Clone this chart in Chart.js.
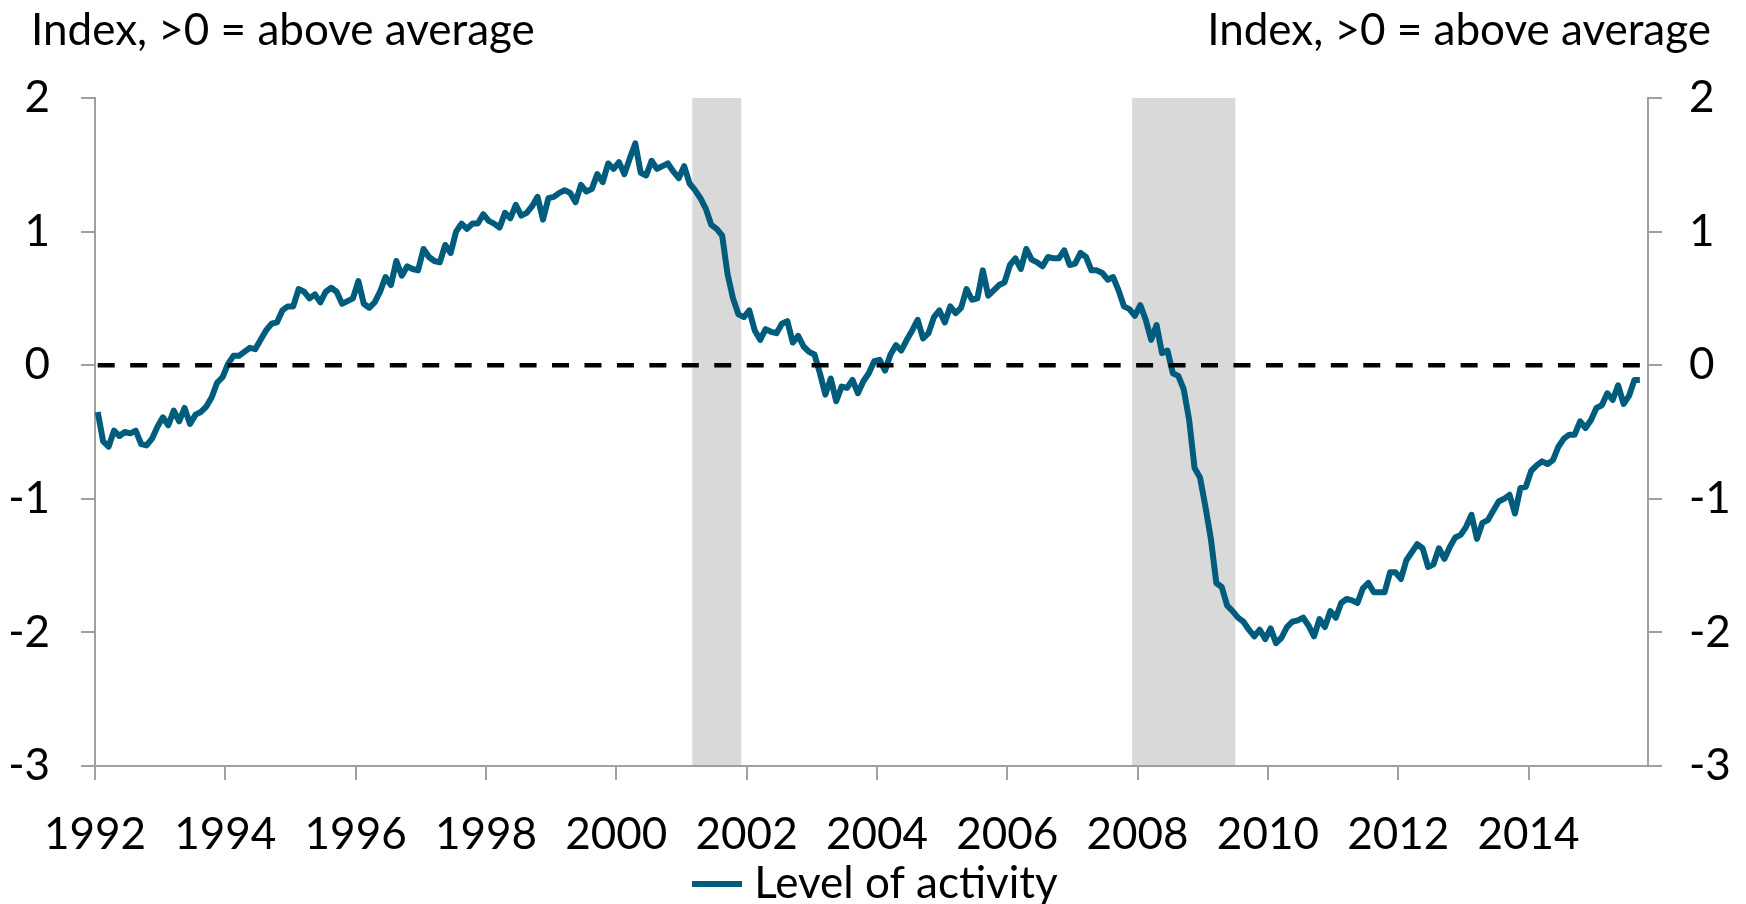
<!DOCTYPE html>
<html>
<head>
<meta charset="utf-8">
<title>Level of activity</title>
<script src="https://cdn.jsdelivr.net/npm/chart.js@4.4.0/dist/chart.umd.min.js"></script>
<style>
  html, body { margin: 0; padding: 0; background: #fff; }
  canvas { display: block; }
</style>
</head>
<body>
<canvas id="activityChart" width="1746" height="904"></canvas>
<script>
// monthly index, Jan 1992 - Sep 2015
const startYear = 1992;
const monthsOnAxis = 286;
const activity = [
  -0.35, -0.57, -0.61, -0.49, -0.53, -0.50, -0.51, -0.49, -0.59, -0.60, -0.55, -0.46, // 1992
  -0.39, -0.45, -0.34, -0.42, -0.32, -0.44, -0.37, -0.35, -0.31, -0.24, -0.13, -0.09, // 1993
   0.01,  0.07,  0.07,  0.10,  0.13,  0.12,  0.19,  0.26,  0.31,  0.32,  0.41,  0.44, // 1994
   0.44,  0.57,  0.55,  0.50,  0.53,  0.47,  0.55,  0.58,  0.55,  0.46,  0.48,  0.50, // 1995
   0.63,  0.46,  0.43,  0.47,  0.55,  0.66,  0.60,  0.78,  0.67,  0.74,  0.72,  0.71, // 1996
   0.87,  0.81,  0.78,  0.77,  0.90,  0.84,  1.00,  1.06,  1.02,  1.06,  1.06,  1.13, // 1997
   1.08,  1.06,  1.03,  1.14,  1.10,  1.20,  1.12,  1.14,  1.19,  1.26,  1.09,  1.25, // 1998
   1.26,  1.29,  1.31,  1.29,  1.22,  1.35,  1.30,  1.32,  1.43,  1.37,  1.51,  1.47, // 1999
   1.52,  1.43,  1.55,  1.66,  1.44,  1.42,  1.53,  1.47,  1.49,  1.51,  1.45,  1.40, // 2000
   1.49,  1.36,  1.31,  1.25,  1.17,  1.05,  1.02,  0.97,  0.68,  0.50,  0.38,  0.36, // 2001
   0.41,  0.26,  0.19,  0.27,  0.25,  0.24,  0.31,  0.33,  0.17,  0.22,  0.14,  0.10, // 2002
   0.08, -0.06, -0.22, -0.10, -0.27, -0.16, -0.17, -0.11, -0.21, -0.12, -0.06,  0.03, // 2003
   0.04, -0.04,  0.08,  0.15,  0.11,  0.19,  0.26,  0.34,  0.20,  0.24,  0.36,  0.41, // 2004
   0.32,  0.44,  0.39,  0.43,  0.57,  0.49,  0.50,  0.71,  0.52,  0.56,  0.60,  0.62, // 2005
   0.75,  0.80,  0.72,  0.87,  0.79,  0.77,  0.74,  0.81,  0.80,  0.80,  0.86,  0.75, // 2006
   0.76,  0.84,  0.81,  0.71,  0.71,  0.69,  0.64,  0.66,  0.56,  0.44,  0.42,  0.37, // 2007
   0.45,  0.34,  0.19,  0.30,  0.09,  0.11, -0.06, -0.08, -0.18, -0.41, -0.77, -0.84, // 2008
  -1.06, -1.30, -1.63, -1.66, -1.80, -1.84, -1.89, -1.92, -1.98, -2.03, -1.98, -2.05, // 2009
  -1.97, -2.08, -2.04, -1.96, -1.92, -1.91, -1.89, -1.95, -2.03, -1.90, -1.96, -1.84, // 2010
  -1.89, -1.78, -1.75, -1.76, -1.78, -1.67, -1.63, -1.70, -1.70, -1.70, -1.55, -1.55, // 2011
  -1.60, -1.46, -1.40, -1.34, -1.37, -1.51, -1.49, -1.37, -1.45, -1.36, -1.29, -1.27, // 2012
  -1.21, -1.12, -1.30, -1.18, -1.16, -1.09, -1.02, -1.00, -0.97, -1.11, -0.92, -0.91, // 2013
  -0.79, -0.75, -0.72, -0.74, -0.71, -0.61, -0.55, -0.52, -0.52, -0.42, -0.47, -0.41, // 2014
  -0.32, -0.30, -0.21, -0.26, -0.15, -0.29, -0.23, -0.11, -0.11                       // 2015
];
const xTickYears = [1992, 1994, 1996, 1998, 2000, 2002, 2004, 2006, 2008, 2010, 2012, 2014];
const yTicks = [-3, -2, -1, 0, 1, 2];
// NBER recessions: Mar-Nov 2001, Dec 2007-Jun 2009
const recessionStart = [2001 + 2 / 12, 2007 + 11 / 12];
const recessionEnd = [2001 + 11 / 12, 2009 + 6 / 12];
const axisTitle = 'Index, >0 = above average';
const seriesLabel = 'Level of activity';

const lineColor = '#005c7d';
const axisGrey = '#a0a0a0';
const fontFamily = 'Lato, "Liberation Sans", sans-serif';
const fontSize = 44;

// each month sits in the middle of its slot on the axis
const monthX = i => startYear + (i + 0.5) / 12;
const activityPoints = activity.map((v, i) => ({ x: monthX(i), y: v }));
const zeroPoints = [
  { x: monthX(0), y: 0 },
  { x: monthX(activity.length - 1), y: 0 }
];

// short thick bar for the legend key, sits close to its text like Excel's
const legendSwatch = document.createElement('canvas');
legendSwatch.width = 50;
legendSwatch.height = 6;
const swCtx = legendSwatch.getContext('2d');
swCtx.fillStyle = lineColor;
swCtx.fillRect(0, 0, 50, 6);

const recessionShading = {
  id: 'recessionShading',
  beforeDraw(chart) {
    const { ctx, chartArea, scales } = chart;
    ctx.save();
    ctx.fillStyle = '#d9d9d9';
    recessionStart.forEach((s, i) => {
      const left = scales.x.getPixelForValue(s);
      const right = scales.x.getPixelForValue(recessionEnd[i]);
      ctx.fillRect(left, chartArea.top, right - left, chartArea.bottom - chartArea.top);
    });
    ctx.restore();
  }
};

const axisTitles = {
  id: 'axisTitles',
  afterDraw(chart) {
    const { ctx } = chart;
    ctx.save();
    ctx.font = fontSize + 'px ' + fontFamily;
    ctx.fillStyle = '#000';
    ctx.textBaseline = 'middle';
    ctx.textAlign = 'left';
    ctx.fillText(axisTitle, 31, 31);
    ctx.textAlign = 'right';
    ctx.fillText(axisTitle, 1711, 31);
    ctx.restore();
  }
};

// legend a little lower/right, x labels allowed to run below the axis box
const layoutTweaks = {
  id: 'layoutTweaks',
  afterLayout(chart) {
    chart.legend.top += 12;
    chart.legend.bottom += 12;
    chart.legend.left += 7;
    chart.legend.right += 7;
    chart.scales.x.bottom = chart.height;
  }
};

function yAxis(position, width, padding) {
  return {
    position: position,
    min: -3,
    max: 2,
    afterBuildTicks: s => { s.ticks = yTicks.map(v => ({ value: v })); },
    afterFit: s => { s.width = width; },
    grid: { drawOnChartArea: false, tickLength: 14, color: axisGrey, lineWidth: 2 },
    border: { color: axisGrey, width: 2 },
    ticks: {
      padding: padding,
      color: '#000',
      font: { family: fontFamily, size: fontSize },
      callback: v => String(v)
    }
  };
}

function drawChart() {
  const ctx = document.getElementById('activityChart').getContext('2d');
  new Chart(ctx, {
    type: 'line',
    data: {
      datasets: [
        {
          label: 'zero',
          data: zeroPoints,
          borderColor: '#000',
          borderWidth: 4.5,
          borderDash: [17, 15.45],
          pointRadius: 0,
          order: 0
        },
        {
          label: seriesLabel,
          data: activityPoints,
          borderColor: lineColor,
          backgroundColor: lineColor,
          borderWidth: 6,
          borderJoinStyle: 'round',
          pointRadius: 0,
          tension: 0,
          order: 1
        }
      ]
    },
    options: {
      responsive: false,
      animation: false,
      devicePixelRatio: 1,
      layout: { padding: { top: 98, left: 0, right: 0, bottom: 0 } },
      scales: {
        x: {
          type: 'linear',
          min: startYear,
          max: startYear + monthsOnAxis / 12,
          afterBuildTicks: s => { s.ticks = xTickYears.map(v => ({ value: v })); },
          afterFit: s => { s.height = 74; },
          grid: { drawOnChartArea: false, tickLength: 14, color: axisGrey, lineWidth: 2 },
          border: { color: axisGrey, width: 2 },
          ticks: {
            padding: 28,
            maxRotation: 0,
            autoSkip: false,
            color: '#000',
            font: { family: fontFamily, size: fontSize },
            callback: v => String(v)
          }
        },
        y: yAxis('left', 95, 31),
        y2: yAxis('right', 98, 27)
      },
      plugins: {
        legend: {
          position: 'bottom',
          labels: {
            filter: item => item.text === seriesLabel,
            usePointStyle: true,
            pointStyle: legendSwatch,
            pointStyleWidth: 30,
            padding: 10,
            color: '#000',
            font: { family: fontFamily, size: fontSize }
          }
        },
        tooltip: { enabled: false }
      }
    },
    plugins: [recessionShading, axisTitles, layoutTweaks]
  });
}

document.fonts.load(fontSize + 'px Lato').then(drawChart, drawChart);
</script>
</body>
</html>
